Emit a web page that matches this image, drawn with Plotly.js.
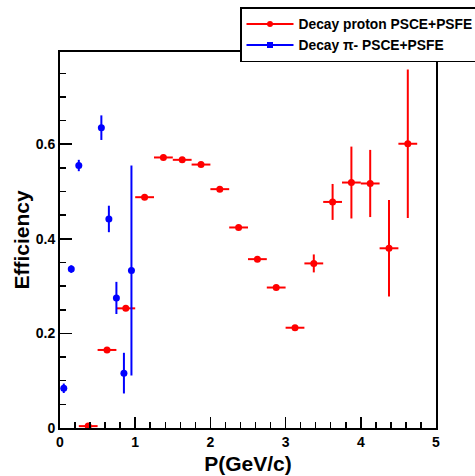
<!DOCTYPE html>
<html>
<head>
<meta charset="utf-8">
<script src="https://cdn.plot.ly/plotly-3.0.1.min.js"></script>
<style>html,body{margin:0;padding:0;background:#fff;}#chart{width:475px;height:476px;}</style>
</head>
<body>
<div id="chart"></div>
<script>
// Decay proton PSCE+PSFE
const protonP    = [0.375, 0.625, 0.875, 1.125, 1.375, 1.625, 1.875, 2.125, 2.375, 2.625, 2.875, 3.125, 3.375, 3.625, 3.875, 4.125, 4.375, 4.625];
const protonEff  = [0.004, 0.165, 0.253, 0.488, 0.572, 0.567, 0.557, 0.505, 0.424, 0.357, 0.297, 0.212, 0.348, 0.478, 0.519, 0.517, 0.380, 0.601];
const protonErrY = [0.003, 0.003, 0.004, 0.004, 0.004, 0.004, 0.004, 0.005, 0.005, 0.005, 0.005, 0.006, 0.019, 0.038, 0.076, 0.071, 0.102, 0.157];
const protonErrX = [0.125, 0.125, 0.125, 0.125, 0.125, 0.125, 0.125, 0.125, 0.125, 0.125, 0.125, 0.125, 0.125, 0.125, 0.125, 0.125, 0.125, 0.125];
// Decay pi- PSCE+PSFE
const pionP    = [0.05, 0.15, 0.25, 0.55, 0.65, 0.75, 0.85, 0.95];
const pionEff  = [0.084, 0.336, 0.555, 0.635, 0.442, 0.275, 0.116, 0.333];
const pionErrY = [0.010, 0.008, 0.012, 0.026, 0.028, 0.034, 0.043, 0.222];

const names = ["Decay proton PSCE+PSFE", "Decay \u03c0- PSCE+PSFE"];
const red = "#ff0000", blue = "#0000ff";

const traces = [
  {x: protonP, y: protonEff, type: "scatter", mode: "markers", showlegend: false,
   marker: {color: red, size: 7, symbol: "circle"},
   error_y: {type: "data", array: protonErrY, visible: true, color: red, thickness: 2, width: 0},
   error_x: {type: "data", array: protonErrX, visible: true, color: red, thickness: 2, width: 0}},
  {x: pionP, y: pionEff, type: "scatter", mode: "markers", showlegend: false,
   marker: {color: blue, size: 7, symbol: "circle"},
   error_y: {type: "data", array: pionErrY, visible: true, color: blue, thickness: 2, width: 0}},
  {x: [null], y: [null], type: "scatter", mode: "lines+markers", name: names[0],
   line: {color: red, width: 2}, marker: {color: red, size: 6, symbol: "circle"}},
  {x: [null], y: [null], type: "scatter", mode: "lines+markers", name: names[1],
   line: {color: blue, width: 2}, marker: {color: blue, size: 6, symbol: "square"}}
];

const fam = "Liberation Sans, Arial, sans-serif";
const tickFont = {family: fam, size: 14, color: "#000", weight: "bold"};
const layout = {
  width: 475, height: 476,
  margin: {l: 60, r: 39, t: 52, b: 48, autoexpand: false},
  paper_bgcolor: "#fff", plot_bgcolor: "#fff",
  showlegend: true,
  legend: {x: (240 - 60) / 376, y: (428 - 7) / 376, xanchor: "left", yanchor: "top",
    bgcolor: "#fff", bordercolor: "#000", borderwidth: 1.5,
    font: {family: fam, size: 13.8, color: "#000", weight: "bold"},
    itemwidth: 47, tracegroupgap: 0},
  shapes: [
    {type: "rect", xref: "paper", yref: "paper", x0: (244 - 60) / 376, x1: 1.2, y0: (428 - 58) / 376, y1: (428 - 12) / 376,
     fillcolor: "#222", line: {width: 0}, layer: "above"}
  ],
  xaxis: {
    range: [0, 5], showgrid: false, zeroline: false,
    showline: true, linecolor: "#000", linewidth: 2, mirror: true,
    ticks: "inside", ticklen: 11, tickwidth: 1.5, tickcolor: "#000",
    dtick: 1, tick0: 0, tickfont: tickFont,
    minor: {dtick: 0.2, ticks: "inside", ticklen: 6, tickwidth: 1.5, tickcolor: "#000", showgrid: false},
    title: {text: "P(GeV/c)", font: {family: fam, size: 21, color: "#000", weight: "bold"}, standoff: 8}
  },
  yaxis: {
    range: [0, 0.795], showgrid: false, zeroline: false,
    showline: true, linecolor: "#000", linewidth: 2, mirror: true,
    ticks: "inside", ticklen: 12, tickwidth: 1.5, tickcolor: "#000",
    dtick: 0.2, tick0: 0, tickfont: tickFont, tickformat: "~g",
    minor: {dtick: 0.05, ticks: "inside", ticklen: 6, tickwidth: 1.5, tickcolor: "#000", showgrid: false},
    title: {text: "Efficiency", font: {family: fam, size: 21, color: "#000", weight: "bold"}, standoff: 0}
  }
};

Plotly.newPlot("chart", traces, layout, {displayModeBar: false, staticPlot: true});
</script>
</body>
</html>
